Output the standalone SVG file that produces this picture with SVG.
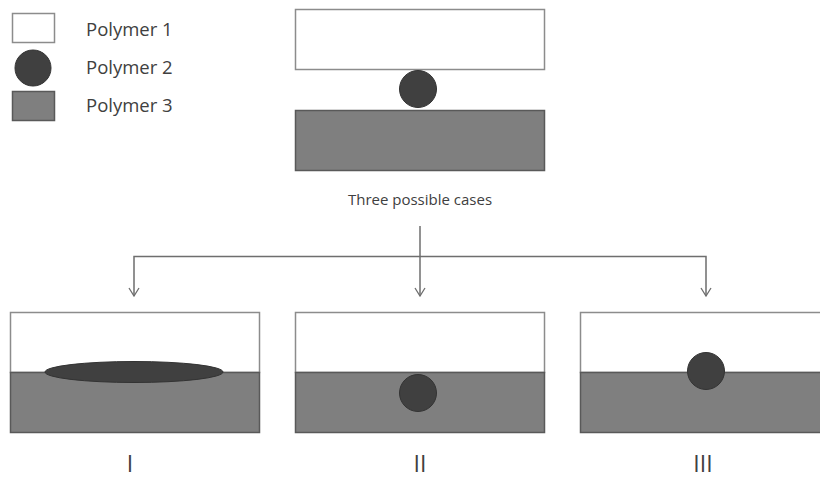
<svg xmlns="http://www.w3.org/2000/svg" width="820" height="479" viewBox="0 0 820 479">
<defs>
<style>
.p1{fill:#fff;stroke:#8c8c8c;stroke-width:1.5}
.p3{fill:#7f7f7f;stroke:#595959;stroke-width:1.5}
.p2{fill:#404040;stroke:#333;stroke-width:1}
.t{font-family:"Open Sans","Liberation Sans",sans-serif;fill:#404040}
.ln{stroke:#6e6e6e;stroke-width:1.5;fill:none}
</style>
<marker id="ah" viewBox="0 0 12 12" refX="11" refY="6" markerWidth="12" markerHeight="12" markerUnits="userSpaceOnUse" orient="auto-start-reverse">
<path d="M3 1 L11 6 L3 11" fill="none" stroke="#6e6e6e" stroke-width="1.3"/>
</marker>
</defs>
<rect width="820" height="479" fill="#fff"/>
<g id="legend">
<rect class="p1" x="12.5" y="13.5" width="42" height="29"/>
<circle class="p2" cx="33" cy="68" r="18"/>
<rect class="p3" x="12.5" y="91.5" width="42" height="29"/>
<text class="t" x="86" y="36" font-size="18.5">Polymer 1</text>
<text class="t" x="86" y="74" font-size="18.5">Polymer 2</text>
<text class="t" x="86" y="112" font-size="18.5">Polymer 3</text>
</g>
<g id="initial">
<rect class="p1" x="295.5" y="9.5" width="249" height="60"/>
<rect class="p3" x="295.5" y="110.5" width="249" height="60"/>
<circle class="p2" cx="418" cy="89" r="18.5"/>
<text class="t" x="420" y="205" font-size="15" text-anchor="middle">Three possible cases</text>
</g>
<g id="connectors">
<line class="ln" x1="420" y1="226" x2="420" y2="296" marker-end="url(#ah)"/>
<polyline class="ln" points="134,296 134,256.5 706,256.5 706,296" marker-start="url(#ah)" marker-end="url(#ah)"/>
</g>
<g id="case1">
<rect class="p1" x="10.5" y="312.5" width="249" height="60"/>
<rect class="p3" x="10.5" y="372.5" width="249" height="60"/>
<ellipse class="p2" cx="134" cy="372" rx="89" ry="10.5"/>
<text class="t" x="130" y="472" font-size="23" text-anchor="middle">I</text>
</g>
<g id="case2">
<rect class="p1" x="295.5" y="312.5" width="249" height="60"/>
<rect class="p3" x="295.5" y="372.5" width="249" height="60"/>
<circle class="p2" cx="418" cy="393" r="18.5"/>
<text class="t" x="420" y="472" font-size="23" text-anchor="middle">II</text>
</g>
<g id="case3">
<rect class="p1" x="580.5" y="312.5" width="260" height="60"/>
<rect class="p3" x="580.5" y="372.5" width="260" height="60"/>
<circle class="p2" cx="706" cy="371" r="18.5"/>
<text class="t" x="703" y="472" font-size="23" text-anchor="middle">III</text>
</g>
</svg>
